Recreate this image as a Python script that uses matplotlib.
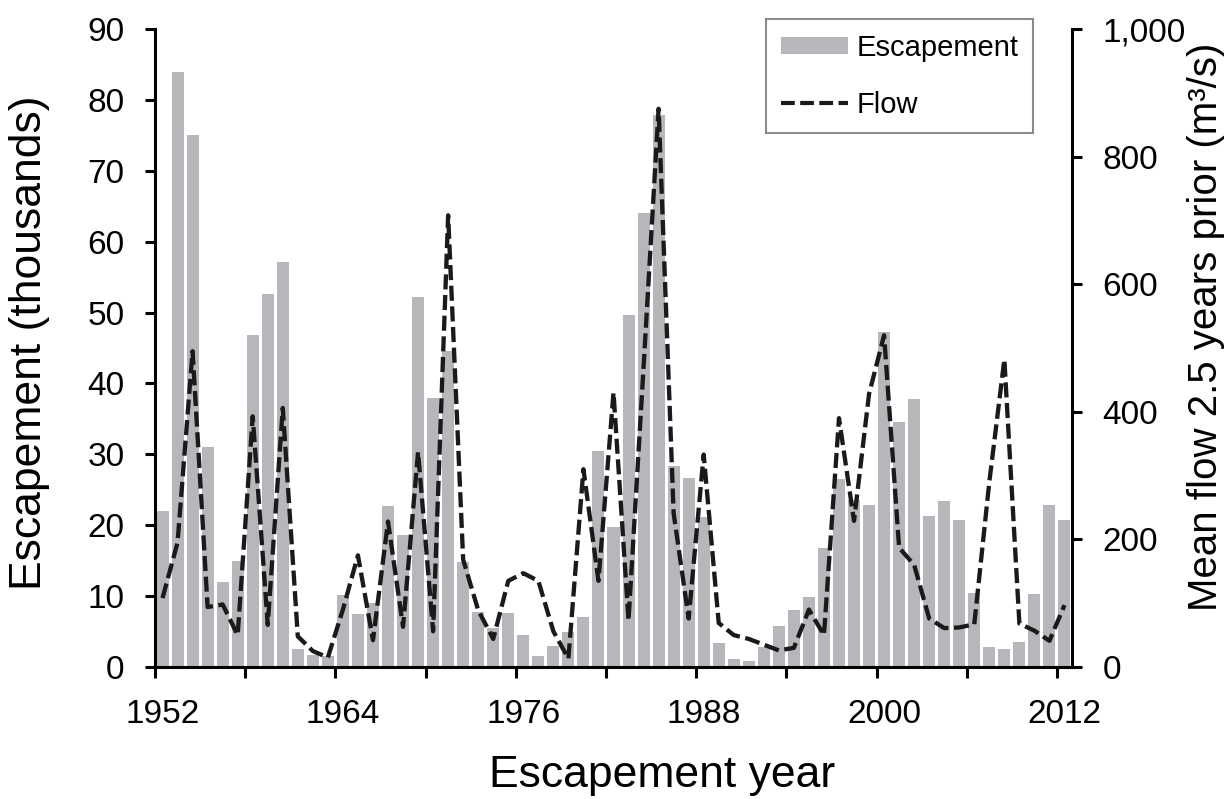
import matplotlib
matplotlib.use("Agg")
import matplotlib.pyplot as plt
from matplotlib.lines import Line2D
from matplotlib.patches import Patch
from matplotlib.ticker import FuncFormatter, FixedLocator

plt.rcParams['font.family'] = ['Liberation Sans', 'DejaVu Sans']

# ---- data ----
years = list(range(1952, 2013))
escapement = [22.0, 84.0, 75.0, 31.0, 12.0, 15.0, 46.8, 52.6, 57.2,
              2.5, 1.7, 1.6, 10.2, 7.5, 9.0, 22.7, 18.6, 52.2, 38.0,
              44.6, 14.8, 7.7, 5.5, 7.6, 4.5, 1.6, 3.0, 5.0, 7.0,
              30.5, 19.8, 49.6, 64.1, 77.8, 28.4, 26.7, 21.2, 3.4, 1.1,
              0.9, 2.8, 5.8, 8.1, 9.9, 16.8, 26.5, 23.5, 22.9, 47.3,
              34.6, 37.8, 21.3, 23.4, 20.7, 10.5, 2.8, 2.6, 3.5, 10.3,
              22.8, 20.8]
flow = [108, 195, 495, 94, 98, 50, 393, 66, 406,
        48, 25, 15, 90, 175, 42, 228, 63, 337, 56,
        708, 168, 89, 44, 135, 147, 135, 56, 13, 310,
        135, 430, 73, 470, 875, 241, 76, 333, 69, 50,
        44, 35, 26, 30, 90, 50, 390, 229, 428, 520,
        187, 160, 76, 61, 62, 67, 290, 482, 68, 57,
        41, 97]
label_years = [1952, 1964, 1976, 1988, 2000, 2012]
left_ticks = [0, 10, 20, 30, 40, 50, 60, 70, 80, 90]
right_ticks = [0, 200, 400, 600, 800, 1000]

BAR_COLOR = '#b6b7ba'
LINE_COLOR = '#1a1a1a'
TICK_FS = 24
TITLE_FS = 32
RTITLE_FS = 29

W, H = 1225, 799
fig = plt.figure(figsize=(W / 100, H / 100), dpi=100)
ax = fig.add_axes([155 / W, 1 - 667 / H, (1072 - 155) / W, (667 - 29) / H])
ax2 = ax.twinx()

ax.bar(years, escapement, width=0.8, color=BAR_COLOR, zorder=1)
ln, = ax2.plot(years, flow, color=LINE_COLOR, lw=3.1, zorder=3,
               dash_joinstyle='round', dash_capstyle='butt')
ln.set_dashes([3.5, 1.3])

ax.set_xlim(years[0] - 0.5, years[-1] + 0.5)
ax.set_ylim(0, 90)
ax2.set_ylim(0, 1000)

# spines
for a in (ax, ax2):
    a.spines['top'].set_visible(False)
ax.spines['right'].set_visible(False)
ax2.spines['left'].set_visible(False)
ax2.spines['bottom'].set_visible(False)
for s in ('left', 'bottom'):
    ax.spines[s].set_linewidth(2.2)
ax2.spines['right'].set_linewidth(2.2)

# x ticks: marks between categories every 6 years, labels every 12
boundaries = [years[0] - 0.5 + 6 * k for k in range(11)]
ax.xaxis.set_major_locator(FixedLocator(boundaries))
ax.xaxis.set_minor_locator(FixedLocator(label_years))
ax.set_xticklabels([], minor=False)
ax.set_xticklabels([str(y) for y in label_years], minor=True)
ax.tick_params(axis='x', which='major', length=8, width=2.2, direction='out')
ax.tick_params(axis='x', which='minor', length=0, pad=23, labelsize=TICK_FS)

ax.set_yticks(left_ticks)
ax.tick_params(axis='y', length=7, width=2.2, pad=15, labelsize=TICK_FS)
ax2.set_yticks(right_ticks)
ax2.yaxis.set_major_formatter(FuncFormatter(lambda v, p: f"{int(v):,}"))
ax2.tick_params(axis='y', length=7, width=2.2, pad=15, labelsize=TICK_FS)

# axis titles
fig.text(30 / W, 1 - 343 / H, 'Escapement (thousands)', rotation=90,
         ha='center', va='center', fontsize=TITLE_FS)
fig.text(1206 / W, 1 - 327 / H, 'Mean flow 2.5 years prior (m\u00b3/s)',
         rotation=90, ha='center', va='center', fontsize=RTITLE_FS)
fig.text(662 / W, 1 - 776 / H, 'Escapement year', ha='center', va='center',
         fontsize=TITLE_FS)

# legend
h_bar = Patch(facecolor=BAR_COLOR, edgecolor='none')
h_line = Line2D([], [], color=LINE_COLOR, lw=3.0, dashes=[3.3, 1.3])
leg = fig.legend([h_bar, h_line], ['Escapement', 'Flow'],
                 loc='upper right', bbox_to_anchor=(1033 / W, 1 - 19 / H),
                 fontsize=21, frameon=True, fancybox=False, framealpha=1,
                 edgecolor='#8c8c8c', handlelength=2.3, handleheight=0.5,
                 handletextpad=0.3, labelspacing=1.0, borderpad=0.5,
                 borderaxespad=0)
leg.get_frame().set_linewidth(1.5)

fig.savefig('out.png', dpi=100)
